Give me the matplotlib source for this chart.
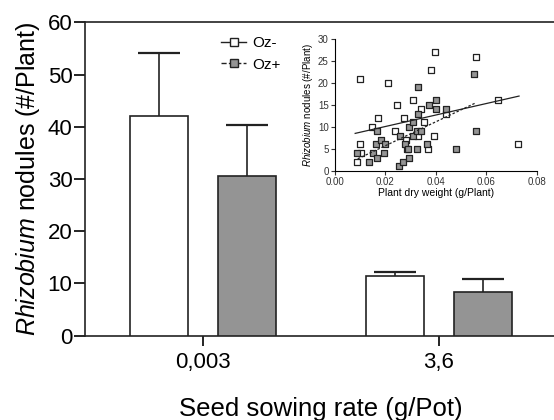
import numpy as np
import matplotlib.pyplot as plt

plt.rcParams['font.family'] = ['Liberation Sans', 'DejaVu Sans']
plt.rcParams['mathtext.fontset'] = 'custom'
plt.rcParams['mathtext.rm'] = 'Liberation Sans'
plt.rcParams['mathtext.it'] = 'Liberation Sans:italic'

# bar data
groups = ['0,003', '3,6']
oz_minus = [42.0, 11.4]
oz_minus_err = [12.2, 0.8]
oz_plus = [30.6, 8.3]
oz_plus_err = [9.8, 2.5]

# inset scatter data
open_x = [0.0086, 0.0099, 0.0100, 0.0102, 0.0148, 0.0172, 0.0209, 0.0238, 0.0247,
          0.0275, 0.0280, 0.0284, 0.0308, 0.0330, 0.0340, 0.0354, 0.0370, 0.0380,
          0.0392, 0.0396, 0.0442, 0.0558, 0.0646, 0.0727]
open_y = [2, 21, 6, 4, 10, 12, 20, 9, 15, 12, 7, 5, 16, 8, 14, 11, 5, 23, 8, 27,
          13, 26, 16, 6]
grey_x = [0.0087, 0.0136, 0.0150, 0.0165, 0.0163, 0.0168, 0.0181, 0.0194, 0.0198,
          0.0256, 0.0255, 0.0270, 0.0277, 0.0290, 0.0294, 0.0294, 0.0310, 0.0310,
          0.0327, 0.0327, 0.0330, 0.0330, 0.0340, 0.0363, 0.0374, 0.0400, 0.0400,
          0.0442, 0.0478, 0.0550, 0.0561]
grey_y = [4, 2, 4, 9, 6, 3, 7, 4, 6, 8, 1, 2, 6, 5, 3, 10, 8, 11, 5, 9, 13, 19,
          9, 6, 15, 16, 14, 14, 5, 22, 9]
# regression line end points
fit_minus_x = [0.008, 0.073]
fit_minus_y = [8.5, 17.0]
fit_plus_x = [0.009, 0.056]
fit_plus_y = [2.7, 15.5]

grey = '#949494'
ink = '#222222'
fig = plt.figure(figsize=(5.54, 4.2), dpi=100)
ax = fig.add_axes([85/554, (420-335.7)/420, 472/554, 313.4/420])

x = np.arange(len(groups))
w = 0.246
off = 0.186
ax.bar(x - off, oz_minus, w, color='white', edgecolor=ink, linewidth=1.2, zorder=3)
ax.bar(x + off, oz_plus, w, color=grey, edgecolor=ink, linewidth=1.2, zorder=3)
# symmetric bars drawn behind, so only the upper half shows
ax.errorbar(x - off, oz_minus, yerr=oz_minus_err, fmt='none', ecolor=ink,
            elinewidth=1.2, capsize=15, capthick=1.6, zorder=2)
ax.errorbar(x + off, oz_plus, yerr=oz_plus_err, fmt='none', ecolor=ink,
            elinewidth=1.2, capsize=15, capthick=1.6, zorder=2)

ax.set_xlim(-0.5, 1.5)
ax.set_ylim(0, 60)
ax.set_xticks(x)
ax.set_xticklabels(groups, fontsize=16)
ax.set_yticks(np.arange(0, 61, 10))
ax.tick_params(axis='y', labelsize=16, length=8, width=1.2, pad=1)
ax.tick_params(axis='x', length=7, width=1.2, pad=5)
ax.spines['right'].set_visible(False)
for s in ['left', 'top', 'bottom']:
    ax.spines[s].set_linewidth(1.2)
    ax.spines[s].set_color(ink)
ax.set_ylabel(r'$\mathit{Rhizobium}$ nodules (#/Plant)', fontsize=18, labelpad=4)
ax.set_xlabel('Seed sowing rate (g/Pot)', fontsize=18.5, labelpad=17)

# legend
h1, = ax.plot([], [], '-', color=ink, lw=1, marker='s', ms=6, mfc='white', mec=ink)
h2, = ax.plot([], [], '--', color=ink, lw=1, marker='s', ms=6, mfc=grey, mec=ink)
ax.legend([h1, h2], ['Oz-', 'Oz+'], loc='upper left', bbox_to_anchor=(0.26, 1.0),
          frameon=False, fontsize=11, handlelength=1.6, handletextpad=0.4, labelspacing=0.5)

# inset
ins = fig.add_axes([335/554, (420-170.7)/420, 201.7/554, 131.7/420])
ins.scatter(open_x, open_y, marker='s', s=22, facecolor='white', edgecolor=ink, linewidth=0.9, zorder=3)
ins.scatter(grey_x, grey_y, marker='s', s=22, facecolor=grey, edgecolor=ink, linewidth=0.9, zorder=3)
ins.plot(fit_minus_x, fit_minus_y, '-', color=ink, lw=0.9, zorder=4)
ins.plot(fit_plus_x, fit_plus_y, '--', color=ink, lw=0.9, dashes=(2, 1.5), zorder=4)
ins.set_xlim(0, 0.08)
ins.set_ylim(0, 30)
ins.set_xticks([0.0, 0.02, 0.04, 0.06, 0.08])
ins.set_xticklabels(['0.00', '0.02', '0.04', '0.06', '0.08'])
ins.set_yticks(np.arange(0, 31, 5))
ins.tick_params(labelsize=7, length=3, width=0.8, pad=1.5, colors='#333333')
ins.spines['right'].set_visible(False)
ins.spines['top'].set_visible(False)
for s in ['left', 'bottom']:
    ins.spines[s].set_linewidth(0.8)
ins.set_xlabel('Plant dry weight (g/Plant)', fontsize=7.5, labelpad=1)
ins.set_ylabel(r'$\mathit{Rhizobium}$ nodules (#/Plant)', fontsize=7, labelpad=2)

fig.savefig('out.png', dpi=100)
